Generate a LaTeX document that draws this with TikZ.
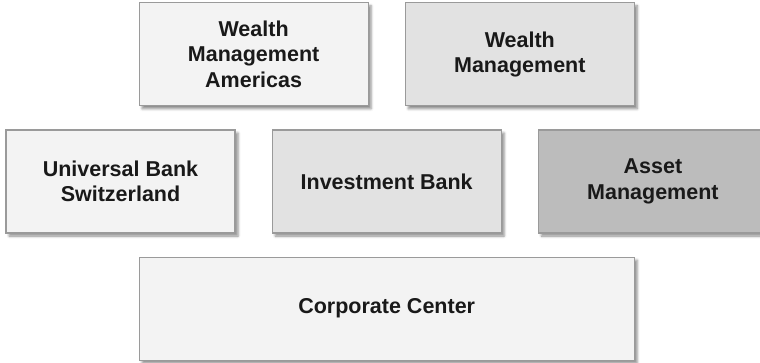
\documentclass[tikz,border=0pt]{standalone}
\usepackage{fontspec}
\setmainfont{Liberation Sans}
\usetikzlibrary{calc, positioning, shadows.blur}

\definecolor{lightbox}{HTML}{F3F3F3}
\definecolor{midbox}{HTML}{E2E2E2}
\definecolor{darkbox}{HTML}{BCBCBC}
\definecolor{boxline}{HTML}{9A9A9A}

\tikzset{
  unit/.style={draw=boxline, line width=1.2pt, minimum width=229pt, minimum height=103pt,
    align=center, text=black!90, font=\bfseries\fontsize{21.5}{25.5}\selectfont,
    blur shadow={shadow xshift=3pt, shadow yshift=-3pt, shadow blur radius=2.5pt, shadow opacity=45}},
}

\begin{document}
\begin{tikzpicture}

  \useasboundingbox (0,0) rectangle (760pt,-363pt);

  \def\gap{36pt}

  \node (ubs) [unit, fill=lightbox] at (120.5pt,-181.5pt) {Universal Bank\\Switzerland};
  \node (ib) [unit, fill=midbox, right=\gap of ubs] {Investment Bank};
  \node (am) [unit, fill=darkbox, right=\gap of ib] {Asset\\Management};

  \coordinate (left top) at ($(ubs.north)!0.5!(ib.north)$);
  \coordinate (right top) at ($(ib.north)!0.5!(am.north)$);

  \node (wma) [unit, fill=lightbox, above=23pt of left top] {Wealth\\Management\\Americas};
  \node (wm) [unit, fill=midbox, above=23pt of right top] {Wealth\\Management};

  \node (cc) [unit, fill=lightbox, minimum width=495pt, below=23pt of ib] {Corporate Center};

\end{tikzpicture}
\end{document}
